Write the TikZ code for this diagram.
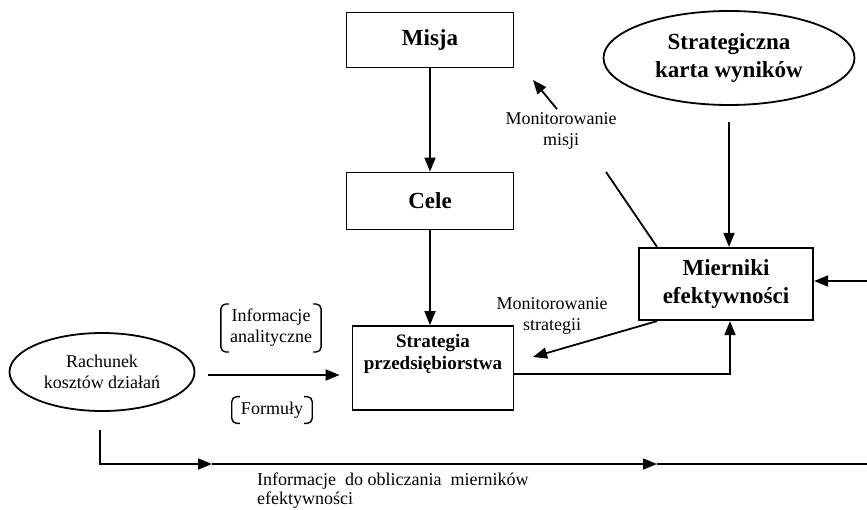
\documentclass[tikz,border=0pt]{standalone}
\usepackage{fontspec}
\setmainfont{Liberation Serif}
\usetikzlibrary{arrows.meta,shapes,positioning}

\begin{document}
\begin{tikzpicture}[x=1pt,y=-1pt,>={Triangle[length=14pt,width=11pt]}]
        \tikzstyle{box}=[rectangle, line width=1.8pt, draw=black, fill=white, align=center, font=\fontsize{23}{28}\selectfont\bfseries]
        \tikzstyle{oval}=[ellipse, line width=1.8pt, draw=black, align=center, inner sep=0pt]
        \tikzstyle{note}=[align=center, font=\fontsize{18}{21}\selectfont]
        \tikzstyle{link}=[line width=1.8pt, ->]
        \tikzstyle{plain}=[line width=1.8pt]
        \tikzstyle{bracket}=[line width=1.4pt, rounded corners=5pt]
        \useasboundingbox (0,0) rectangle (867,509);
        % boxes
        \node [box, minimum width=167pt, minimum height=55pt] (misja) at (430,40) {Misja};
        \node [box, minimum width=167pt, minimum height=57pt] (cele) at (430,201) {Cele};
        \node [box, minimum width=161pt, minimum height=84pt] (strat) at (433,368) {};
        \node [font=\fontsize{19}{22}\selectfont\bfseries, align=center, anchor=north] (strattxt) at ([yshift=-6pt]strat.north) {Strategia\\przedsiębiorstwa};
        \node [box, minimum width=174pt, minimum height=72pt, line width=2.2pt] (miern) at (726,284) {Mierniki\\efektywności};
        % ovals
        \node [oval, minimum width=251pt, minimum height=94pt, font=\fontsize{23}{28}\selectfont\bfseries] (karta) at (729,58) {Strategiczna\\karta wyników};
        \node [oval, note, minimum width=185pt, minimum height=78pt] (rach) at (102,372) {Rachunek\\kosztów działań};
        % bracketed notes
        \node [note, inner xsep=9pt, inner ysep=5pt] (info) at (271,328) {Informacje\\analityczne};
        \node [note, inner xsep=9pt, inner ysep=5pt] (formuly) at (272,410) {Formuły};
        \foreach \n in {info,formuly} {
          \draw [bracket] ([xshift=8pt]\n.north west) -- (\n.north west) -- (\n.south west) -- ([xshift=8pt]\n.south west);
          \draw [bracket] ([xshift=-8pt]\n.north east) -- (\n.north east) -- (\n.south east) -- ([xshift=-8pt]\n.south east);
        }
        % labels
        \node [note] (monmisji) at (561,131) {Monitorowanie\\misji};
        \node [note] (monstrat) at (552,316) {Monitorowanie\\strategii};
        \node [note, font=\fontsize{18}{19}\selectfont, align=left, anchor=north west, inner sep=1pt] (infomiern) at (256,472) {Informacje\ \ do obliczania\ \ mierników\\efektywności};
        % free ends
        \coordinate (misjamon) at (533,80);
        \coordinate (misjaline) at (606,172);
        \coordinate (stratmon) at (533,357);
        \coordinate (rightin) at (867,281);
        \coordinate (rachout) at (208,375);
        \coordinate (downstart) at (100,430);
        \coordinate (arrowone) at (212,464);
        \coordinate (arrowtwo) at (657,464);
        \coordinate (downend) at (867,464);
        % connectors
        \draw [link] (misja) -- (cele);
        \draw [link] (cele.south) -- (cele.south |- strat.north);
        \draw [link] ([yshift=-16pt]karta.south) -- (karta.south |- miern.north);
        \draw [link] (rightin) -- (rightin -| miern.east);
        \draw [link] ([yshift=-6pt]strat.east) -| ([xshift=4pt]miern.south);
        \draw [link] ([xshift=-69pt]miern.south) -- (stratmon);
        \draw [plain] ([xshift=-69pt]miern.north) -- (misjaline);
        \draw [link] ([xshift=-4pt]monmisji.north) -- (misjamon);
        \draw [link] (rachout) -- ([xshift=-12pt]rachout -| strat.west);
        \draw [link] (downstart) |- (arrowone);
        \draw [link] (arrowone) -- (arrowtwo);
        \draw [plain] (arrowtwo) -- (downend);
\end{tikzpicture}
\end{document}
